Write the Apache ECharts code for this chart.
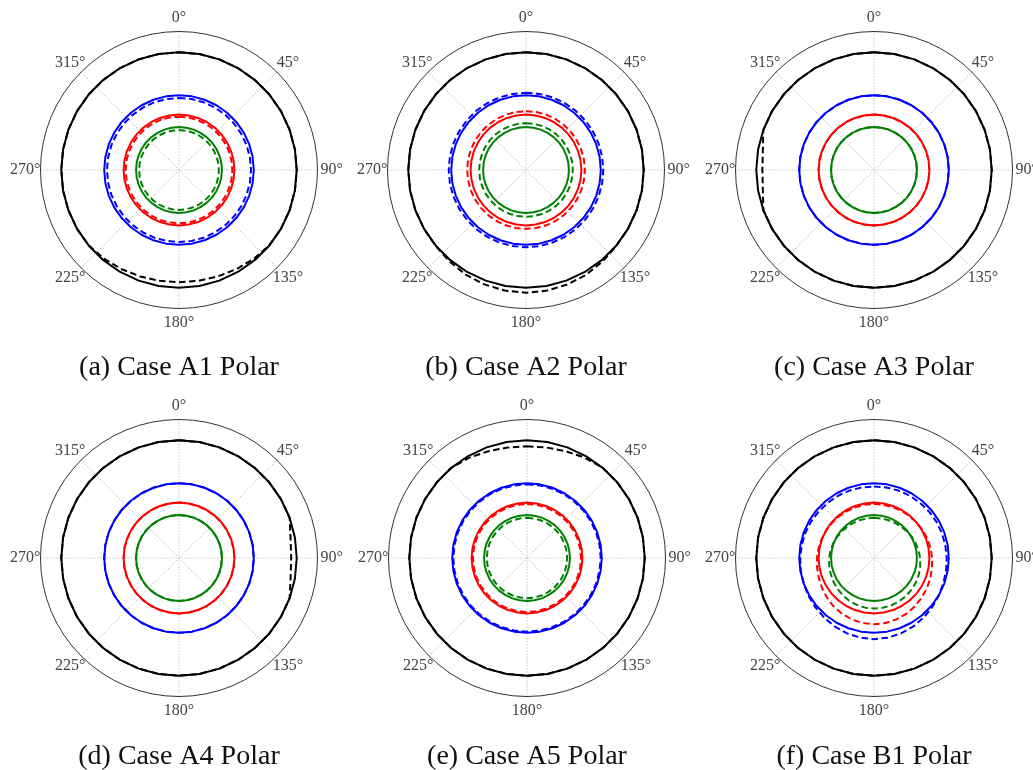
<!DOCTYPE html>
<html>
<head>
<meta charset="utf-8">
<script src="https://cdn.jsdelivr.net/npm/echarts@6.0.0/dist/echarts.min.js"></script>
<style>
  html, body { margin: 0; padding: 0; background: #fff; }
  #main { width: 1033px; height: 770px; }
</style>
</head>
<body>
<div id="main"></div>
<script>
// angles (deg) at which every curve is sampled
const angles = [0, 10, 20, 30, 40, 50, 60, 70, 80, 90, 100, 110, 120, 130, 140, 150, 160, 170, 180,
  190, 200, 210, 220, 230, 240, 250, 260, 270, 280, 290, 300, 310, 320, 330, 340, 350, 360]

const captions = ['(a) Case A1 Polar', '(b) Case A2 Polar', '(c) Case A3 Polar',
  '(d) Case A4 Polar', '(e) Case A5 Polar', '(f) Case B1 Polar']

// solid curves are plain circles, same in every case
const blackSolid = 0.85
const blueSolid = 0.54
const redSolid = 0.40
const greenSolid = 0.31

// dashed black curve, per case
const blackDashA1 = [0.85, 0.85, 0.85, 0.85, 0.85, 0.85, 0.85, 0.85, 0.85, 0.85, 0.85, 0.85, 0.85,
  0.849, 0.838, 0.827, 0.818, 0.812, 0.81, 0.812, 0.818, 0.827, 0.838, 0.849,
  0.85, 0.85, 0.85, 0.85, 0.85, 0.85, 0.85, 0.85, 0.85, 0.85, 0.85, 0.85, 0.85]
const blackDashA2 = [0.85, 0.85, 0.85, 0.85, 0.85, 0.85, 0.85, 0.85, 0.85, 0.85, 0.85, 0.85, 0.85,
  0.852, 0.861, 0.872, 0.879, 0.884, 0.886, 0.884, 0.879, 0.872, 0.861, 0.852,
  0.85, 0.85, 0.85, 0.85, 0.85, 0.85, 0.85, 0.85, 0.85, 0.85, 0.85, 0.85, 0.85]
const blackDashA3 = [0.85, 0.85, 0.85, 0.85, 0.85, 0.85, 0.85, 0.85, 0.85, 0.85, 0.85, 0.85, 0.85,
  0.85, 0.85, 0.85, 0.85, 0.85, 0.85, 0.85, 0.85, 0.85, 0.85, 0.85, 0.85, 0.85,
  0.815, 0.806, 0.815, 0.85, 0.85, 0.85, 0.85, 0.85, 0.85, 0.85, 0.85]
const blackDashA4 = [0.85, 0.85, 0.85, 0.85, 0.85, 0.85, 0.85, 0.85,
  0.818, 0.81, 0.818, 0.85, 0.85, 0.85, 0.85, 0.85, 0.85, 0.85, 0.85, 0.85, 0.85, 0.85, 0.85,
  0.85, 0.85, 0.85, 0.85, 0.85, 0.85, 0.85, 0.85, 0.85, 0.85, 0.85, 0.85, 0.85, 0.85]
const blackDashA5 = [0.807, 0.81, 0.82, 0.836, 0.85, 0.85, 0.85, 0.85, 0.85, 0.85, 0.85, 0.85, 0.85,
  0.85, 0.85, 0.85, 0.85, 0.85, 0.85, 0.85, 0.85, 0.85, 0.85, 0.85, 0.85, 0.85, 0.85, 0.85,
  0.85, 0.85, 0.85, 0.85, 0.85, 0.836, 0.82, 0.81, 0.807]

// dashed coloured curves of case B1 (shifted down)
const blueDashB1 = [0.517, 0.517, 0.518, 0.518, 0.519, 0.520, 0.521, 0.522, 0.523, 0.525, 0.528, 0.533,
  0.540, 0.550, 0.560, 0.570, 0.578, 0.584, 0.586, 0.584, 0.578, 0.570, 0.561, 0.553, 0.546, 0.540,
  0.536, 0.533, 0.530, 0.528, 0.525, 0.522, 0.520, 0.519, 0.518, 0.517, 0.517]
const redDashB1 = [0.390, 0.390, 0.391, 0.393, 0.396, 0.400, 0.405, 0.410, 0.415, 0.420, 0.425, 0.432,
  0.440, 0.448, 0.457, 0.465, 0.472, 0.477, 0.478, 0.477, 0.472, 0.464, 0.455, 0.444, 0.433, 0.424,
  0.417, 0.412, 0.407, 0.402, 0.398, 0.395, 0.393, 0.391, 0.390, 0.390, 0.390]
const greenDashB1 = [0.290, 0.290, 0.292, 0.295, 0.299, 0.305, 0.312, 0.319, 0.326, 0.333, 0.339, 0.345,
  0.350, 0.355, 0.359, 0.362, 0.364, 0.365, 0.365, 0.364, 0.361, 0.357, 0.351, 0.345, 0.339, 0.333,
  0.328, 0.324, 0.319, 0.313, 0.307, 0.301, 0.297, 0.294, 0.292, 0.290, 0.290]

// per case (a..f): a number is a plain circle
const blackDash = [blackDashA1, blackDashA2, blackDashA3, blackDashA4, blackDashA5, 0.85]
const blueDash = [0.52, 0.558, 0.54, 0.54, 0.532, blueDashB1]
const redDash = [0.385, 0.425, 0.40, 0.40, 0.39, redDashB1]
const greenDash = [0.288, 0.338, 0.31, 0.31, 0.29, greenDashB1]

// layout
const centers = [[179, 170], [526, 170], [874, 170], [179, 558], [527, 558], [874, 558]]
const outerR = 138.5
const captionTop = [354, 743]
const serif = '"Liberation Serif", "Times New Roman", serif'

function toPoints (r) {
  return angles.map((a, i) => [Array.isArray(r) ? r[i] : r, a])
}

// per-label nudges so labels sit centred around the circle like the original
const labelRich = {
  t0: { padding: [0, 0, 12, 0] },
  t45: { padding: [0, 0, 6, 4] },
  t90: { padding: [0, 0, 0, 9] },
  t135: { padding: [6, 0, 0, 0] },
  t180: { padding: [12, 0, 0, 0] },
  t225: { padding: [6, 0, 0, 0] },
  t270: { padding: [0, 6, 0, 0] },
  t315: { padding: [0, 0, 6, 0] }
}
Object.keys(labelRich).forEach(k => {
  labelRich[k].fontFamily = serif
  labelRich[k].fontSize = 16
  labelRich[k].color = '#444'
})

const polar = []
const angleAxis = []
const radiusAxis = []
const title = []
const series = []

centers.forEach((c, i) => {
  polar.push({ center: c, radius: outerR })
  angleAxis.push({
    polarIndex: i,
    type: 'value',
    min: 0,
    max: 360,
    interval: 45,
    startAngle: 90,
    clockwise: true,
    axisLine: { show: true, lineStyle: { color: '#333', width: 1 } },
    axisTick: { show: false },
    splitLine: { show: true, lineStyle: { color: '#aaa', width: 1, type: [1, 2] } },
    axisLabel: {
      margin: -6,
      fontFamily: serif,
      fontSize: 16,
      color: '#444',
      formatter: function (v) {
        if (v >= 360) return ''
        return '{t' + v + '|' + v + '°}'
      },
      rich: labelRich
    }
  })
  radiusAxis.push({ polarIndex: i, type: 'value', min: 0, max: 1, show: false })
  title.push({
    text: captions[i],
    left: c[0],
    top: captionTop[i < 3 ? 0 : 1],
    textAlign: 'center',
    padding: 0,
    textStyle: { fontFamily: serif, fontSize: 28, fontWeight: 'normal', color: '#111' }
  })

  const curves = [
    ['#000000', blackSolid, blackDash[i]],
    ['#0000ff', blueSolid, blueDash[i]],
    ['#ff0000', redSolid, redDash[i]],
    ['#008000', greenSolid, greenDash[i]]
  ]
  curves.forEach(cv => {
    series.push({
      type: 'line', coordinateSystem: 'polar', polarIndex: i,
      data: toPoints(cv[1]), symbol: 'none', silent: true,
      lineStyle: { color: cv[0], width: 2, join: 'round' }
    })
    series.push({
      type: 'line', coordinateSystem: 'polar', polarIndex: i,
      data: toPoints(cv[2]), symbol: 'none', silent: true,
      lineStyle: { color: cv[0], width: 2, type: [6.5, 3.5], join: 'round' }
    })
  })
})

const chart = echarts.init(document.getElementById('main'), null, { renderer: 'canvas' })
chart.setOption({
  animation: false,
  backgroundColor: '#ffffff',
  title: title,
  polar: polar,
  angleAxis: angleAxis,
  radiusAxis: radiusAxis,
  series: series
})
</script>
</body>
</html>
